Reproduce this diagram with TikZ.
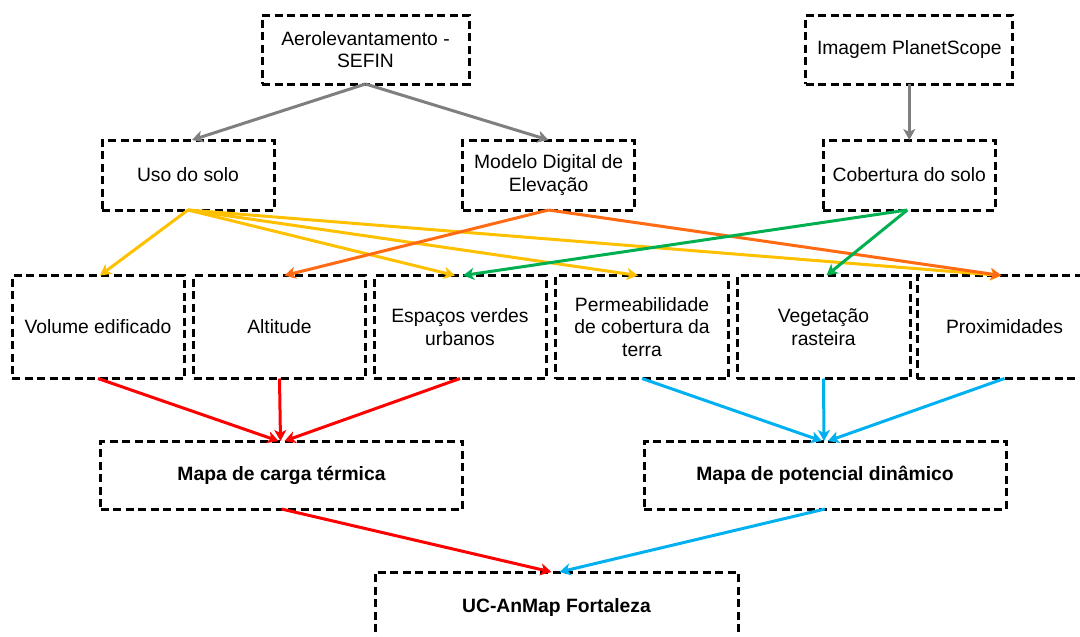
\documentclass[tikz,border=0pt]{standalone}
\usepackage{fontspec}
\setmainfont{Liberation Sans}
\usetikzlibrary{arrows.meta}
\definecolor{cgray}{HTML}{7F7F7F}
\definecolor{cyel}{HTML}{FFC000}
\definecolor{corg}{HTML}{FF6A13}
\definecolor{cgrn}{HTML}{00B050}
\definecolor{cred}{HTML}{FF0000}
\definecolor{cblu}{HTML}{00B0F0}
\tikzset{
  box/.style={draw=black, line width=3pt, dash pattern=on 8pt off 4.5pt, rectangle,
    inner sep=0pt, outer sep=0pt, align=center,
    font=\fontsize{19.3}{22.5}\selectfont},
  bbox/.style={box, font=\fontsize{19.3}{22.5}\selectfont\bfseries},
  conn/.style={line width=3pt, -{Stealth[length=11pt,width=12pt,inset=3pt]}},
}
\begin{document}
\begin{tikzpicture}[x=1pt,y=-1pt]
\useasboundingbox (0,0) rectangle (1080,637);
% top
\node[box, minimum width=207pt, minimum height=69pt] (aero) at (365.5,49.5) {Aerolevantamento -\\SEFIN};
\node[box, minimum width=207pt, minimum height=69pt] (img) at (909.3,49.5) {Imagem PlanetScope};
% second row
\node[box, minimum width=172pt, minimum height=70pt] (uso) at (188,175) {Uso do solo};
\node[box, minimum width=172pt, minimum height=70pt] (mde) at (548.6,175) {Modelo Digital de\\Elevação};
\node[box, minimum width=172pt, minimum height=70pt] (cob) at (909.3,175) {Cobertura do solo};
% third row
\node[box, minimum width=172pt, minimum height=103pt] (vol) at (98,327) {Volume edificado};
\node[box, minimum width=172pt, minimum height=103pt] (alt) at (279.5,327) {Altitude};
\node[box, minimum width=172pt, minimum height=103pt] (esp) at (460,327) {Espaços verdes\\urbanos};
\node[box, minimum width=173pt, minimum height=103pt] (perm) at (642,327) {Permeabilidade\\de cobertura da\\terra};
\node[box, minimum width=173pt, minimum height=103pt] (veg) at (823.5,327) {Vegetação\\rasteira};
\node[box, minimum width=175pt, minimum height=103pt] (prox) at (1004.5,327) {Proximidades};
% maps
\node[bbox, minimum width=362pt, minimum height=68pt] (carga) at (281.5,475) {Mapa de carga térmica};
\node[bbox, minimum width=362pt, minimum height=68pt] (pot) at (825,475) {Mapa de potencial dinâmico};
\node[bbox, minimum width=363pt, minimum height=72pt] (uc) at (556.5,608) {UC-AnMap Fortaleza};
% gray
\draw[conn, cgray] (aero.south) -- ([xshift=4pt]uso.north);
\draw[conn, cgray] (aero.south) -- (mde.north);
\draw[conn, cgray] (img.south) -- (cob.north);
% yellow
\draw[conn, cyel] (uso.south) -- ([xshift=2pt]vol.north);
\draw[conn, cyel] (uso.south) -- ([xshift=-5pt]esp.north);
\draw[conn, cyel] (uso.south) -- ([xshift=-4pt]perm.north);
\draw[conn, cyel] (uso.south) -- ([xshift=-3pt]prox.north);
% orange
\draw[conn, corg] (mde.south) -- ([xshift=5pt]alt.north);
\draw[conn, corg] (mde.south) -- ([xshift=-3pt]prox.north);
% green
\draw[conn, cgrn] ([xshift=-2pt]cob.south) -- ([xshift=3pt]esp.north);
\draw[conn, cgrn] ([xshift=-2pt]cob.south) -- ([xshift=3pt]veg.north);
% red
\draw[conn, cred] (vol.south) -- ([xshift=-3pt]carga.north);
\draw[conn, cred] (alt.south) -- ([xshift=-1pt]carga.north);
\draw[conn, cred] (esp.south) -- ([xshift=3pt]carga.north);
% blue
\draw[conn, cblu] (perm.south) -- ([xshift=-3pt]pot.north);
\draw[conn, cblu] (veg.south) -- ([xshift=-1pt]pot.north);
\draw[conn, cblu] (prox.south) -- ([xshift=3pt]pot.north);
% bottom
\draw[conn, cred] (carga.south) -- ([xshift=-5pt]uc.north);
\draw[conn, cblu] (pot.south) -- ([xshift=3pt]uc.north);
\end{tikzpicture}
\end{document}
